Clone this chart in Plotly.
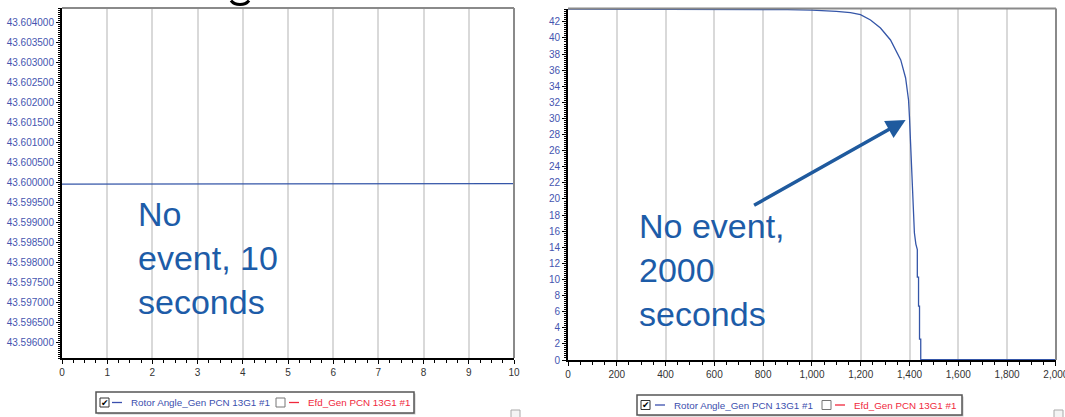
import plotly.graph_objects as go

W, H = 1065, 417

# ---------------- data ----------------
t_short = [0, 0.2, 0.44, 0.45, 1, 2, 3, 4, 5, 6, 7, 8, 9, 10]
angle_short = [43.599955, 43.599955, 43.599955, 43.59997, 43.59997, 43.59997, 43.59997,
               43.59997, 43.59997, 43.59997, 43.59997, 43.59997, 43.59997, 43.59997]

t_long = [0, 200, 400, 600, 700, 800, 900, 1000, 1050, 1100, 1158, 1199, 1240, 1281,
          1322, 1364, 1384, 1396, 1400, 1405, 1410, 1415, 1420, 1426, 1432, 1432,
          1437, 1437, 1441, 1441, 1446, 1446, 1600, 1800, 2000]
angle_long = [43.6, 43.6, 43.6, 43.59, 43.58, 43.56, 43.52, 43.45, 43.4, 43.3, 43.14,
              42.89, 42.24, 41.24, 39.75, 37.27, 35.03, 32.3, 30.06, 26.5, 22.0, 18.5,
              15.8, 14.4, 13.7, 10.3, 10.3, 6.7, 6.7, 2.6, 2.6, 0.05, 0.05, 0.05, 0.05]

series_names = ["Rotor Angle_Gen PCN 13G1 #1", "Efd_Gen PCN 13G1 #1"]
series_colors = ["#3b4fae", "#f0283c"]
note_left = "No<br>event, 10<br>seconds"
note_right = "No event,<br>2000<br>seconds"

FONT = "Liberation Sans, Arial, sans-serif"
LINE = "#3556a8"
TXT_BLUE = "#1d5ca8"


def X(px):
    return px / W


def Y(py):
    return 1 - py / H


fig = go.Figure()
fig.add_trace(go.Scatter(x=t_short, y=angle_short, mode="lines", xaxis="x", yaxis="y",
                         line=dict(color=LINE, width=1.3), showlegend=False))
fig.add_trace(go.Scatter(x=t_long, y=angle_long, mode="lines", xaxis="x2", yaxis="y2",
                         line=dict(color=LINE, width=1.3), showlegend=False))

common_x = dict(showline=True, linecolor="black", linewidth=2, ticks="outside", ticklen=4,
                tickcolor="black", showgrid=True, gridcolor="#d9d9d9", gridwidth=1.5,
                zeroline=False, automargin=False, ticklabeloverflow="allow",
                tickfont=dict(family=FONT, size=10, color="#333333"),
                minor=dict(ticks="outside", ticklen=2.5, tickcolor="black", showgrid=False))
common_y = dict(showline=True, linecolor="black", linewidth=2, ticks="outside", ticklen=4,
                tickcolor="black", showgrid=False, zeroline=False, automargin=False,
                tickfont=dict(family=FONT, size=10, color="#4555b0"),
                minor=dict(ticks="outside", ticklen=2.5, tickcolor="black", showgrid=False))

fig.update_layout(
    width=W, height=H, margin=dict(l=0, r=0, t=0, b=0, pad=0, autoexpand=False),
    paper_bgcolor="white", plot_bgcolor="white",
    xaxis=dict(domain=[X(62), X(514)], range=[0, 10], tick0=0, dtick=1,
               anchor="y", **common_x),
    yaxis=dict(domain=[Y(358), Y(8)], range=[43.59560, 43.60437], tick0=43.596,
               dtick=0.0005, tickformat=".6f", anchor="x", **common_y),
    xaxis2=dict(domain=[X(568), X(1056)], range=[0, 2000.5], tick0=0, dtick=200,
                tickformat=",", anchor="y2", **common_x),
    yaxis2=dict(domain=[Y(360), Y(8.5)], range=[0, 43.66], tick0=0, dtick=2,
                anchor="x2", **common_y),
)
fig.layout.xaxis.minor.dtick = 0.25
fig.layout.xaxis2.minor.dtick = 50
fig.layout.yaxis.minor.dtick = 0.00005
fig.layout.yaxis2.minor.dtick = 0.25

shapes = []
# gray top/right frame lines
for xr, yr in [("x domain", "y domain"), ("x2 domain", "y2 domain")]:
    shapes.append(dict(type="line", xref=xr, yref=yr, x0=0, x1=1, y0=1, y1=1,
                       line=dict(color="#8a8a8a", width=2)))
    shapes.append(dict(type="line", xref=xr, yref=yr, x0=1, x1=1, y0=0, y1=1,
                       line=dict(color="#8a8a8a", width=2)))

# descender fragment of the slide title cut off at the top edge
shapes.append(dict(type="path", xref="paper", yref="paper",
                   path=f"M {X(231)},{Y(0.5)} Q {X(234)},{Y(4.5)} {X(240)},{Y(4.5)} "
                        f"Q {X(246)},{Y(4.5)} {X(249)},{Y(0.5)}",
                   line=dict(color="black", width=3)))

annotations = []
# big texts
annotations.append(dict(x=X(136), y=Y(193), xref="paper", yref="paper", xanchor="left",
                        yanchor="top", align="left", text=note_left, showarrow=False,
                        font=dict(family=FONT, size=34, color=TXT_BLUE)))
annotations.append(dict(x=X(637), y=Y(205), xref="paper", yref="paper", xanchor="left",
                        yanchor="top", align="left", text=note_right, showarrow=False,
                        font=dict(family=FONT, size=34, color=TXT_BLUE)))
# arrow
annotations.append(dict(x=1384, y=29.8, xref="x2", yref="y2", ax=-153, ay=86, text="",
                        showarrow=True, arrowhead=2, arrowsize=1.1, arrowwidth=3.5,
                        arrowcolor="#1f5a9e"))


def legend(bx0, bx1, by0, by1, cb1, ln1, tx1, cb2, ln2, tx2):
    shapes.append(dict(type="rect", xref="paper", yref="paper", x0=X(bx0 + 1.5), x1=X(bx1 + 1.5),
                       y0=Y(by1 + 1.5), y1=Y(by0 + 1.5), line=dict(width=0),
                       fillcolor="#c8c8c8"))
    shapes.append(dict(type="rect", xref="paper", yref="paper", x0=X(bx0), x1=X(bx1),
                       y0=Y(by1), y1=Y(by0), line=dict(color="#555555", width=1.5),
                       fillcolor="white"))
    cy = (by0 + by1) / 2
    for k, (cb, ln, tx) in enumerate([(cb1, ln1, tx1), (cb2, ln2, tx2)]):
        shapes.append(dict(type="rect", xref="paper", yref="paper", x0=X(cb), x1=X(cb + 9),
                           y0=Y(cy + 4.5), y1=Y(cy - 4.5),
                           line=dict(color="#333333" if k == 0 else "#777777", width=1),
                           fillcolor="white"))
        shapes.append(dict(type="line", xref="paper", yref="paper", x0=X(ln), x1=X(ln + 10),
                           y0=Y(cy), y1=Y(cy), line=dict(color=series_colors[k], width=1.3)))
        annotations.append(dict(x=X(tx), y=Y(cy), xref="paper", yref="paper",
                                xanchor="left", yanchor="middle", text=series_names[k],
                                showarrow=False,
                                font=dict(family=FONT, size=9.8, color=series_colors[k])))
        if k == 0:
            annotations.append(dict(x=X(cb + 4.5), y=Y(cy), xref="paper", yref="paper",
                                    xanchor="center", yanchor="middle", text="✔",
                                    showarrow=False,
                                    font=dict(family="DejaVu Sans", size=9, color="black")))


legend(96, 414, 392, 413, 100, 112, 129, 276, 289, 306)
legend(637, 962, 395, 415, 641, 655, 672, 822, 835, 852)

# small corner boxes
for x0 in [511, 1054]:
    shapes.append(dict(type="rect", xref="paper", yref="paper", x0=X(x0), x1=X(x0 + 9),
                       y0=Y(418), y1=Y(410), line=dict(color="#aaaaaa", width=1),
                       fillcolor="#f4f4f4"))

fig.update_layout(shapes=shapes, annotations=annotations)
fig.write_html("out.html", config={"displayModeBar": False},
               post_script="document.body.style.margin='0';document.body.style.overflow='hidden';")
